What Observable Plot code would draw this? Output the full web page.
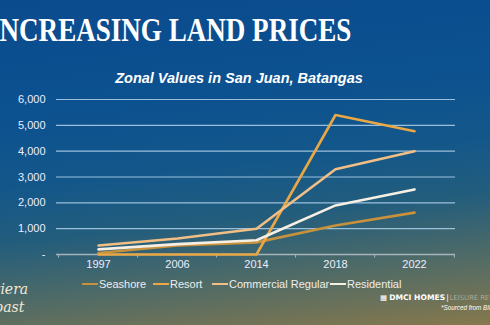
<!DOCTYPE html>
<html><head><meta charset="utf-8">
<script src="https://cdn.jsdelivr.net/npm/d3@7"></script>
<script src="https://cdn.jsdelivr.net/npm/@observablehq/plot@0.6"></script>
<style>
html,body{margin:0;padding:0;}
#wrap{position:relative;width:490px;height:325px;overflow:hidden;
 background:linear-gradient(174deg,#0a4b8e 0%,#0c5190 30%,#13578a 50%,#235d7c 65%,#4c6a68 80%,#86784c 100%);
 font-family:"Liberation Sans",Arial,sans-serif;color:#fff;}
#title{position:absolute;left:-11px;top:14px;font-family:"Liberation Serif","Times New Roman",serif;font-weight:bold;font-size:33px;line-height:1;white-space:nowrap;transform:scaleX(0.82);transform-origin:0 0;}
#sub{position:absolute;left:0;width:478px;top:70px;text-align:center;font-weight:bold;font-style:italic;font-size:14.5px;}
#chart{position:absolute;left:0;top:90px;}
#legend{position:absolute;left:0;top:278px;font-size:11px;color:#eee;white-space:nowrap;}
.li{position:absolute;top:0;}
.sw{display:inline-block;width:16px;height:2.5px;vertical-align:middle;margin-right:1px;position:relative;top:-1px;}
#brand{position:absolute;left:380px;top:293px;font-family:"DejaVu Sans",sans-serif;font-size:7.6px;white-space:nowrap;color:#fff;}
#brand b{margin-left:2px;margin-right:1px;}
#brand .l{color:#dcdcdc;font-weight:200;font-size:7px;letter-spacing:-0.1px;margin-left:1px;}
#src{position:absolute;left:441px;top:304px;font-size:6.3px;font-style:italic;color:#fff;white-space:nowrap;}
#logo1{position:absolute;left:-12px;top:281px;font-family:"DejaVu Serif",serif;font-style:italic;font-size:14px;color:#f1e8d8;}
#logo2{position:absolute;left:-16px;top:299px;font-family:"DejaVu Serif",serif;font-style:italic;font-size:14px;color:#f1e8d8;}
</style></head>
<body><div id="wrap">
<div id="title">INCREASING LAND PRICES</div>
<div id="sub">Zonal Values in San Juan, Batangas</div>
<div id="chart"></div>
<div id="legend"></div>
<div id="logo1">iviera</div>
<div id="logo2">Coast</div>
<div id="brand">&#9638;<b>DMCI HOMES</b>|<span class="l">LEISURE RESIDENCES</span></div>
<div id="src">*Sourced from BIR</div>
</div>
<script>
const years = ["1997","2006","2014","2018","2022"];
const seriesNames = ["Seashore","Resort","Commercial Regular","Residential"];
const seashore = [60, 350, 470, 1120, 1620];
const resort = [0, 0, 0, 5400, 4770];
const commercial = [350, 620, 1000, 3300, 4000];
const residential = [200, 400, 550, 1900, 2520];
const colors = ["#c8913c","#e9a746","#f1bf86","#f6efe4"];
const yTicks = [0,1000,2000,3000,4000,5000,6000];

const allSeries = [seashore, resort, commercial, residential];
const data = [];
allSeries.forEach((vals, i) => vals.forEach((v, j) => data.push({series: seriesNames[i], year: years[j], value: v})));

const W = 490, ML = 56, MR = 35;
const step = (W - ML - MR) / years.length;

const chart = Plot.plot({
  width: W, height: 185,
  marginLeft: ML, marginRight: MR, marginTop: 9, marginBottom: 21,
  style: {background: "transparent", color: "#eef", fontFamily: "Liberation Sans, Arial, sans-serif", fontSize: "11px"},
  x: {type: "point", domain: years, padding: 0.5, label: null},
  y: {domain: [0, 6000], label: null},
  color: {domain: seriesNames, range: colors},
  marks: [
    Plot.ruleY(yTicks.slice(1), {stroke: "#a9cbe6", strokeWidth: 1.2, strokeOpacity: 0.9}),
    Plot.ruleY([0], {stroke: "#a7b4bc", strokeWidth: 1.4}),
    Plot.ruleX(years, {x: d => d, dx: -step/2, y1: 0, y2: -140, stroke: "#a7b4bc", clip: false}),
    Plot.ruleX(years.slice(-1), {x: d => d, dx: step/2, y1: 0, y2: -140, stroke: "#a7b4bc", clip: false}),
    Plot.axisY({ticks: yTicks, tickSize: 0, tickPadding: 11, fill: "#eef",
      tickFormat: d => d === 0 ? "-" : d3.format(",")(d)}),
    Plot.axisX({tickSize: 0, tickPadding: 6, fill: "#eef"}),
    Plot.lineY(data, {x: "year", y: "value", z: "series", stroke: "series", strokeWidth: 2.6})
  ]
});
document.getElementById("chart").appendChild(chart);

const legendX = [82, 153, 212, 330];
const lg = document.getElementById("legend");
seriesNames.forEach((n, i) => {
  const s = document.createElement("span");
  s.className = "li"; s.style.left = legendX[i] + "px";
  s.innerHTML = `<span class="sw" style="background:${colors[i]}"></span>${n}`;
  lg.appendChild(s);
});
</script>
</body></html>
